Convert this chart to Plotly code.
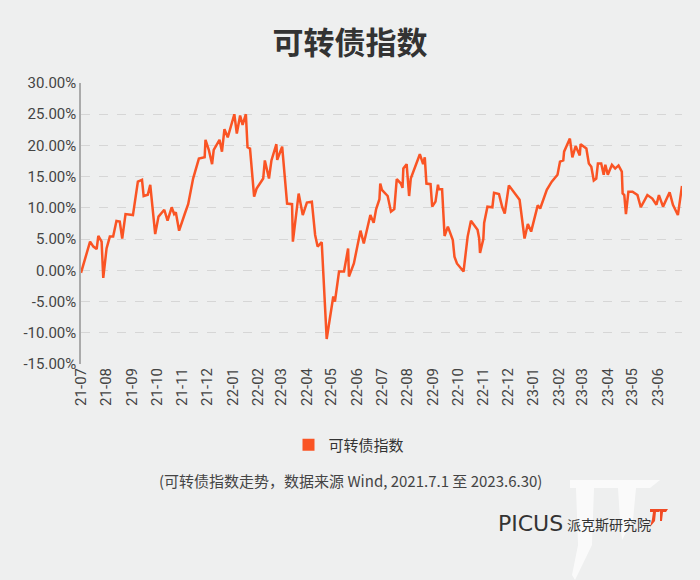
import plotly.graph_objects as go

# ---- data ----
dates = [
    "2021-07-01", "2021-07-12", "2021-07-16", "2021-07-20", "2021-07-22", "2021-07-26", "2021-07-28",
    "2021-08-01", "2021-08-05", "2021-08-09", "2021-08-13", "2021-08-17", "2021-08-20", "2021-08-24",
    "2021-09-02", "2021-09-04", "2021-09-08", "2021-09-13", "2021-09-15", "2021-09-20", "2021-09-23", "2021-09-29",
    "2021-10-03", "2021-10-10", "2021-10-14", "2021-10-19", "2021-10-22", "2021-10-24", "2021-10-28",
    "2021-11-04", "2021-11-08", "2021-11-14", "2021-11-21", "2021-11-28", "2021-11-29",
    "2021-12-03", "2021-12-07", "2021-12-09", "2021-12-16", "2021-12-19", "2021-12-22", "2021-12-26",
    "2022-01-03", "2022-01-06", "2022-01-10", "2022-01-13", "2022-01-17", "2022-01-19", "2022-01-22", "2022-01-27", "2022-01-30",
    "2022-02-07", "2022-02-09", "2022-02-14", "2022-02-17", "2022-02-23", "2022-02-24",
    "2022-03-02", "2022-03-08", "2022-03-14", "2022-03-15", "2022-03-22", "2022-03-27",
    "2022-04-01", "2022-04-07", "2022-04-11", "2022-04-14", "2022-04-19", "2022-04-25",
    "2022-05-03", "2022-05-05", "2022-05-10", "2022-05-16", "2022-05-21", "2022-05-22", "2022-05-28",
    "2022-06-05", "2022-06-09", "2022-06-17", "2022-06-21", "2022-06-24", "2022-06-28", "2022-06-29",
    "2022-07-01", "2022-07-08", "2022-07-12", "2022-07-16", "2022-07-19", "2022-07-24", "2022-07-26", "2022-07-27", "2022-07-31",
    "2022-08-03", "2022-08-05", "2022-08-16", "2022-08-20", "2022-08-22", "2022-08-24", "2022-08-29", "2022-08-31",
    "2022-09-04", "2022-09-07", "2022-09-08", "2022-09-12", "2022-09-15", "2022-09-19", "2022-09-25", "2022-09-27", "2022-09-30",
    "2022-10-08", "2022-10-13", "2022-10-17", "2022-10-25", "2022-10-27", "2022-10-28",
    "2022-11-01", "2022-11-02", "2022-11-06", "2022-11-12", "2022-11-14", "2022-11-20", "2022-11-24", "2022-11-27",
    "2022-12-02", "2022-12-15", "2022-12-21", "2022-12-25", "2022-12-29",
    "2023-01-06", "2023-01-09", "2023-01-17", "2023-01-23", "2023-01-30",
    "2023-02-02", "2023-02-06", "2023-02-07", "2023-02-14", "2023-02-17", "2023-02-21", "2023-02-26", "2023-02-27",
    "2023-03-06", "2023-03-09", "2023-03-12", "2023-03-15", "2023-03-18", "2023-03-20", "2023-03-24", "2023-03-27", "2023-03-29",
    "2023-04-01", "2023-04-06", "2023-04-10", "2023-04-14", "2023-04-18", "2023-04-19", "2023-04-21", "2023-04-23", "2023-04-26",
    "2023-05-01", "2023-05-07", "2023-05-11", "2023-05-19", "2023-05-25", "2023-05-30",
    "2023-06-02", "2023-06-07", "2023-06-15", "2023-06-19", "2023-06-25", "2023-06-30",
]
index_pct = [
    -0.4, 4.6, 3.8, 3.4, 5.5, 4.6, -1.2,
    3.5, 5.4, 5.4, 7.9, 7.8, 5.1, 9.0,
    8.85, 10.7, 14.2, 14.5, 11.9, 12.1, 13.7, 5.8,
    8.6, 9.7, 7.95, 10.1, 9.0, 9.3, 6.35,
    9.1, 10.6, 14.7, 17.9, 18.1, 20.9,
    19.3, 17.0, 19.3, 20.9, 19.0, 22.6, 21.3,
    25.0, 21.9, 24.8, 23.3, 25.0, 19.7, 19.5, 11.8, 13.1,
    14.7, 17.6, 14.7, 17.6, 20.2, 17.7,
    19.8, 10.7, 10.6, 4.6, 12.3, 8.85,
    10.85, 11.0, 5.66, 3.8, 4.5, -11.0,
    -4.2, -5.0, -0.2, -0.2, 3.5, -1.0, 1.1,
    6.35, 4.3, 8.85, 7.6, 9.8, 11.4, 13.9,
    12.9, 11.9, 9.4, 9.8, 14.6, 13.9, 13.2, 16.3, 17.0,
    11.9, 14.7, 18.6, 17.0, 18.1, 13.9, 13.8, 10.2,
    11.0, 13.7, 13.0, 13.0, 5.5, 7.0, 4.85, 2.2, 1.1,
    -0.2, 5.4, 7.95, 6.5, 5.1, 2.8,
    5.0, 7.6, 10.2, 10.1, 12.4, 12.2, 10.1, 9.1,
    13.6, 11.3, 5.1, 7.4, 6.2,
    10.4, 9.9, 12.9, 14.2, 15.3,
    17.4, 17.6, 19.0, 21.1, 18.1, 19.9, 18.4, 20.2,
    19.5, 17.1, 16.6, 14.4, 14.7, 17.1, 17.1, 15.3, 16.9,
    15.3, 16.9, 16.3, 16.8, 15.8, 12.3, 12.05, 9.0, 12.6,
    12.6, 12.05, 10.1, 12.05, 11.5, 10.5,
    12.05, 10.2, 12.5, 10.5, 8.85, 13.5,
]
series_name = "可转债指数"
y_ticks = [-15, -10, -5, 0, 5, 10, 15, 20, 25, 30]
y_tick_labels = [f"{v:.2f}%" for v in y_ticks]
chart_title = "可转债指数"
caption = "(可转债指数走势，数据来源 Wind, 2021.7.1 至 2023.6.30)"

# ---- styling ----
BG = "#eeefef"
ORANGE = "#fa5424"
CJK = "Noto Sans CJK SC, Noto Sans, sans-serif"
NUM = "Roboto, sans-serif"

W, H = 700, 580
L, R, T, B = 81, 682, 83, 364


def px(x, y):
    """pixel -> plot-domain paper coordinates (decoration only)."""
    return (x - L) / (R - L), (B - y) / (B - T)


fig = go.Figure()
fig.add_trace(go.Scatter(
    x=dates, y=index_pct, mode="lines",
    line=dict(color=ORANGE, width=2.5),
    showlegend=False, name=series_name, hoverinfo="skip",
))
# legend swatch (square)
fig.add_trace(go.Scatter(
    x=[None], y=[None], mode="markers", name=series_name,
    marker=dict(symbol="square", size=12, color=ORANGE),
    showlegend=True,
))

fig.update_layout(
    width=W, height=H,
    paper_bgcolor=BG, plot_bgcolor=BG,
    margin=dict(l=L, r=W - R, t=T, b=H - B),
    title=dict(text=f"<b>{chart_title}</b>", x=0.5, xanchor="center",
               y=1 - 43 / H, yanchor="middle",
               font=dict(family=CJK, size=31, color="#333333")),
    showlegend=True,
    hovermode=False,
    legend=dict(orientation="h", x=px(349, 0)[0], xanchor="center",
                y=px(0, 445)[1], yanchor="middle",
                font=dict(family=CJK, size=15, color="#333333"),
                bgcolor="rgba(0,0,0,0)", itemwidth=30),
    xaxis=dict(
        type="date",
        range=["2021-07-01", "2023-06-30"],
        tickformat="%y-%m", dtick="M1", tick0="2021-07-01",
        tickangle=-90, showgrid=False, zeroline=False,
        showline=False, ticks="",
        tickfont=dict(family=NUM, size=15, color="#444444"),
    ),
    yaxis=dict(
        range=[-15, 30], tickvals=y_ticks, ticktext=y_tick_labels,
        showgrid=True, gridcolor="#d6d6d6", griddash="dash", gridwidth=1,
        zeroline=False, showline=True, linecolor="#aaaaaa", linewidth=1.5,
        ticks="", tickfont=dict(family=NUM, size=15, color="#444444"),
    ),
)

# caption
fig.add_annotation(text=caption, xref="paper", yref="paper",
                   x=px(350, 0)[0], y=px(0, 480)[1], xanchor="center", yanchor="middle",
                   showarrow=False, font=dict(family=CJK, size=15, color="#444444"))

# faint white logo strokes
def path(points):
    pts = [px(x, y) for x, y in points]
    return "M " + " L ".join(f"{a:.4f},{b:.4f}" for a, b in pts) + " Z"

white_shapes = [
    [(570, 480), (660, 480), (650, 488), (570, 488)],
    [(576, 488), (594, 488), (592, 545), (575, 580), (572, 575), (578, 545)],
    [(618, 488), (636, 488), (633, 520), (622, 540), (620, 520)],
]
for pts in white_shapes:
    fig.add_shape(type="path", path=path(pts), xref="paper", yref="paper",
                  fillcolor="rgba(255,255,255,0.7)", line=dict(width=0), layer="below")

# red mark
red_shapes = [
    [(650, 509), (661, 509), (659, 512), (656, 512), (655, 521), (650, 527), (652, 519), (653, 512), (650, 512)],
    [(658, 509), (668, 509), (666, 512), (663, 512), (662, 521), (660, 521), (660, 512)],
]
for pts in red_shapes:
    fig.add_shape(type="path", path=path(pts), xref="paper", yref="paper",
                  fillcolor="#f04a24", line=dict(width=0))

fig.add_annotation(text="PICUS", xref="paper", yref="paper",
                   x=px(496, 0)[0], y=px(0, 523)[1], xanchor="left", yanchor="middle",
                   showarrow=False, font=dict(family="DejaVu Sans, sans-serif", size=22, color="#333333"))
fig.add_annotation(text="派克斯研究院", xref="paper", yref="paper",
                   x=px(565, 0)[0], y=px(0, 524)[1], xanchor="left", yanchor="middle",
                   showarrow=False, font=dict(family=CJK, size=14, color="#333333"))

fig.write_html(
    "out.html",
    config={"displayModeBar": False},
    post_script="document.body.style.margin='0';document.body.style.background='#eeefef';",
)
